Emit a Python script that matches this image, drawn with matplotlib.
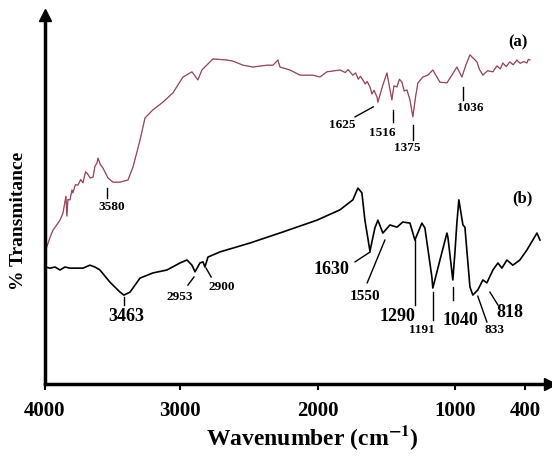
import numpy as np
import matplotlib
matplotlib.use("Agg")
import matplotlib.pyplot as plt

plt.rcParams['font.family'] = ['Liberation Serif', 'DejaVu Serif']
plt.rcParams['font.weight'] = 'bold'
plt.rcParams['mathtext.fontset'] = 'stix'

# spectrum (a) - wavenumber (cm-1) and % transmittance (arbitrary offset)
wn_a = [4000, 3960, 3941, 3915, 3889, 3867, 3845, 3838, 3830, 3815, 3800, 3793, 3775,
        3756, 3735, 3719, 3700, 3689, 3665, 3644, 3630, 3615, 3607, 3590, 3570, 3533,
        3496, 3444, 3385, 3348, 3296, 3259, 3200, 3126, 3052,
        2978, 2913, 2870, 2841, 2761, 2659, 2616, 2543, 2471, 2370, 2326, 2290, 2275,
        2203, 2130, 2036, 1985, 1934, 1839, 1800, 1780, 1745, 1725, 1705, 1690, 1672,
        1655, 1640, 1620, 1605, 1590, 1569, 1562, 1526, 1496,
        1460, 1445, 1423, 1405, 1387, 1370, 1350, 1328, 1307, 1285, 1270, 1234, 1197,
        1161, 1109, 1058,
        1022, 983, 940, 906, 871, 811, 790, 760, 720, 674, 640, 610, 589, 560, 529,
        500, 469, 440, 410, 383, 370, 357]
tr_a = [35.8, 40.0, 41.7, 43.0, 44.4, 46.3, 50.9, 45.5, 50.0, 49.9, 52.6, 51.8, 54.0,
        53.9, 55.4, 54.5, 57.5, 57.2, 55.8, 56.1, 59.0, 59.9, 61.2, 59.5, 58.5, 55.8,
        54.7, 54.7, 55.3, 58.8, 66.1, 72.1, 74.3, 76.4, 78.9,
        83.2, 84.6, 82.4, 85.1, 88.1, 87.8, 87.5, 86.4, 85.9, 86.4, 86.4, 87.8, 85.9,
        85.1, 83.7, 83.7, 83.2, 84.6, 85.1, 84.4, 85.2, 83.7, 84.3, 82.6, 83.4, 82.4,
        81.3, 82.0, 80.5, 78.6, 79.6, 77.8, 76.4, 81.0, 84.3,
        77.0, 80.8, 80.5, 82.6, 81.8, 79.4, 79.7, 77.0, 72.4, 78.3, 81.6, 83.2, 83.7,
        85.1, 81.8, 81.6,
        83.7, 85.9, 83.2, 86.4, 89.2, 87.3, 85.3, 83.7, 84.9, 84.6, 86.2, 85.4, 87.0,
        86.0, 87.3, 86.5, 87.8, 86.9, 87.4, 87.0, 88.0, 87.8]

# spectrum (b)
wn_b = [4000, 3963, 3926, 3889, 3852, 3815, 3763, 3719, 3667, 3630, 3593, 3519, 3444,
        3415, 3370, 3296, 3200, 3096, 3000, 2949, 2913, 2891, 2855, 2833, 2819, 2797,
        2710, 2493, 2254, 2007, 1839, 1745, 1708, 1679, 1657, 1620, 1584, 1562, 1526,
        1474, 1423, 1380, 1328, 1292, 1241, 1219, 1168, 1161, 1109, 1058, 1051, 1015,
        1000, 983, 966, 931, 914, 871, 846, 803, 760, 726, 674, 631, 597, 554, 503,
        443, 383, 297, 271]
tr_b = [31.7, 31.4, 31.7, 30.9, 31.7, 31.4, 31.4, 31.4, 32.2, 31.7, 30.9, 27.6, 24.9,
        24.1, 24.9, 28.7, 30.1, 30.9, 32.8, 33.6, 32.2, 30.4, 32.8, 33.1, 31.7, 34.4,
        35.8, 38.2, 41.2, 44.4, 47.2, 49.9, 53.1, 51.8, 44.4, 36.0, 42.3, 44.4, 40.9,
        43.1, 42.5, 43.9, 43.6, 39.0, 43.6, 42.3, 29.0, 26.0, 33.6, 40.9, 39.8, 28.2,
        35.5, 43.6, 49.9, 43.1, 42.5, 26.3, 24.1, 25.5, 28.2, 27.4, 30.9, 32.8, 31.4,
        33.6, 32.2, 33.6, 36.3, 40.9, 39.0]

tick_vals = [4000, 3000, 2000, 1000, 400]

# peak labels: text, text pos (axes fraction), leader line (axes fraction), size
peaks = [
    ("3580", (0.133, 0.480), [(0.123, 0.531), (0.123, 0.504)], 9.5),
    ("1625", (0.588, 0.702), [(0.614, 0.724), (0.650, 0.751)], 9.5),
    ("1516", (0.667, 0.680), [(0.689, 0.743), (0.689, 0.710)], 9.5),
    ("1375", (0.717, 0.640), [(0.729, 0.702), (0.729, 0.661)], 9.5),
    ("1036", (0.842, 0.748), [(0.828, 0.805), (0.828, 0.770)], 9.5),
    ("3463", (0.162, 0.182), [(0.156, 0.236), (0.156, 0.214)], 13),
    ("2953", (0.267, 0.236), [(0.283, 0.268), (0.295, 0.290)], 9.5),
    ("2900", (0.350, 0.263), [(0.319, 0.314), (0.329, 0.290)], 9.5),
    ("1630", (0.568, 0.309), [(0.614, 0.331), (0.644, 0.358)], 13),
    ("1550", (0.634, 0.236), [(0.638, 0.274), (0.673, 0.390)], 11),
    ("1290", (0.697, 0.182), [(0.733, 0.390), (0.733, 0.214)], 13),
    ("1191", (0.747, 0.146), [(0.768, 0.249), (0.768, 0.173)], 9.5),
    ("1040", (0.822, 0.173), [(0.808, 0.263), (0.808, 0.228)], 13),
    ("833", (0.891, 0.146), [(0.857, 0.238), (0.875, 0.168)], 9.5),
    ("818", (0.921, 0.195), [(0.881, 0.249), (0.897, 0.214)], 13),
]

# the printed axis is not quite linear (400 sits closer to 1000)
xp = [0, 400, 1000, 2000, 3000, 4000, 5000]
fp = [-527, -480, -410, -273, -135, 0, 137]


def fwd(w):
    return np.interp(w, xp, fp)


def inv(u):
    return np.interp(u, fp, xp)


fig = plt.figure(figsize=(5.52, 4.62), dpi=100)
ax = fig.add_axes([45 / 552, 1 - 384 / 462, 505 / 552, 369 / 462])
ax.set_xscale('function', functions=(fwd, inv))

ax.plot(wn_a, tr_a, color='#b8405c', lw=0.9)
ax.plot(wn_a, tr_a, color='#555555', lw=0.4, alpha=0.6)
ax.plot(wn_b, tr_b, color='black', lw=1.2)

ax.set_xlim(4000, 186)
ax.set_ylim(0, 100)
ax.set_xticks(tick_vals)
ax.set_xticklabels([str(v) for v in tick_vals])
ax.set_yticks([])
ax.tick_params(axis='x', direction='out', length=4, width=1.5, labelsize=15, pad=8)

for s in ['top', 'right']:
    ax.spines[s].set_visible(False)
for s in ['left', 'bottom']:
    ax.spines[s].set_linewidth(2.5)

# arrow heads on the axes
ax.plot(1, 0, marker='>', ms=9, color='black', transform=ax.transAxes, clip_on=False)
ax.plot(0, 1, marker='^', ms=9, color='black', transform=ax.transAxes, clip_on=False)

ax.text(0.937, 0.927, "(a)", transform=ax.transAxes, fontsize=12, ha='center', va='center')
ax.text(0.945, 0.504, "(b)", transform=ax.transAxes, fontsize=12, ha='center', va='center')

for txt, pos, line, size in peaks:
    ax.text(pos[0], pos[1], txt, transform=ax.transAxes, fontsize=size,
            ha='center', va='center')
    ax.plot([line[0][0], line[1][0]], [line[0][1], line[1][1]], color='black',
            lw=1.0, transform=ax.transAxes, clip_on=False)

ax.set_xlabel(r'Wavenumber (cm$^{\mathbf{-1}}$)', fontsize=17, fontweight='bold')
ax.xaxis.set_label_coords(0.53, -0.105)
ax.set_ylabel('% Transmitance', fontsize=14, fontweight='bold')
ax.yaxis.set_label_coords(-0.036, 0.442)

fig.savefig('out.png', dpi=100)
